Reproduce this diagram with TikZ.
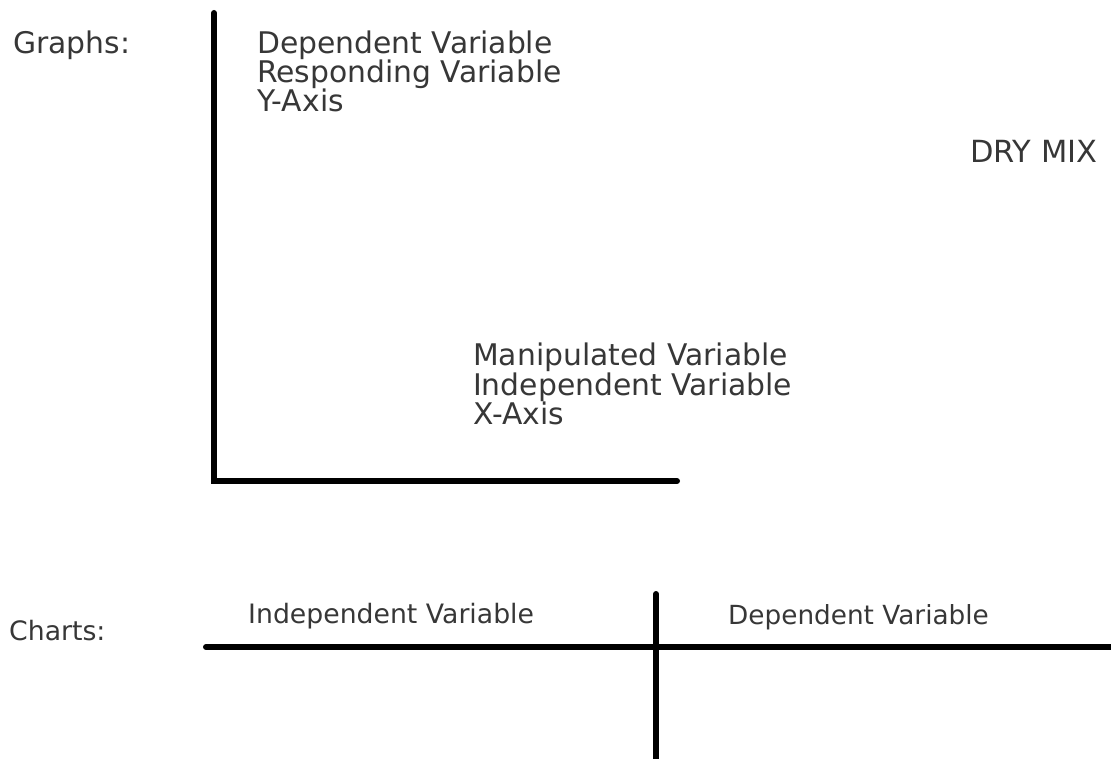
\documentclass[tikz,border=0pt]{standalone}
\usepackage{fontspec}
\setmainfont{DejaVu Sans}
\usetikzlibrary{positioning}
\definecolor{textgray}{RGB}{55,55,55}

\tikzset{
  axisline/.style={line width=6pt, line cap=round, black},
  txt/.style={anchor=base west, inner sep=0pt, text=textgray, font=\fontsize{29.8}{30}\selectfont},
  charttxt/.style={txt, font=\fontsize{26.7}{28}\selectfont}
}

\begin{document}
\begin{tikzpicture}[x=1pt, y=-1pt]
  \useasboundingbox (0,0) rectangle (1111,759);
  % graph axes
  \coordinate (ytop) at (214,13);
  \coordinate (origin) at (214,481);
  \coordinate (xend) at (677,481);
  \draw[axisline] (ytop) -- (origin) -- (xend);
  % graph labels
  \node[txt] (graphs) at (13,54) {Graphs:};
  \node[txt] (dep1) at (257,54) {Dependent Variable};
  \node[txt] (dep2) at (257,83) {Responding Variable};
  \node[txt] (dep3) at (257,112) {Y-Axis};
  \node[txt, font=\fontsize{30.5}{31}\selectfont] (dry) at (970,163) {DRY MIX};
  \node[txt] (ind1) at (473,365) {Manipulated Variable};
  \node[txt] (ind2) at (473,395) {Independent Variable};
  \node[txt] (ind3) at (473,424) {X-Axis};
  % chart lines
  \coordinate (hleft) at (206,647);
  \coordinate (hright) at (1116,647);
  \coordinate (vtop) at (656,594);
  \coordinate (vbottom) at (656,765);
  \draw[axisline] (hleft) -- (hright);
  \draw[axisline] (vtop) -- (vbottom);
  % chart labels
  \node[charttxt] (charts) at (9,640) {Charts:};
  \node[charttxt] (cind) at (248,623) {Independent Variable};
  \node[charttxt, font=\fontsize{26.3}{28}\selectfont] (cdep) at (728,624) {Dependent Variable};
\end{tikzpicture}
\end{document}
